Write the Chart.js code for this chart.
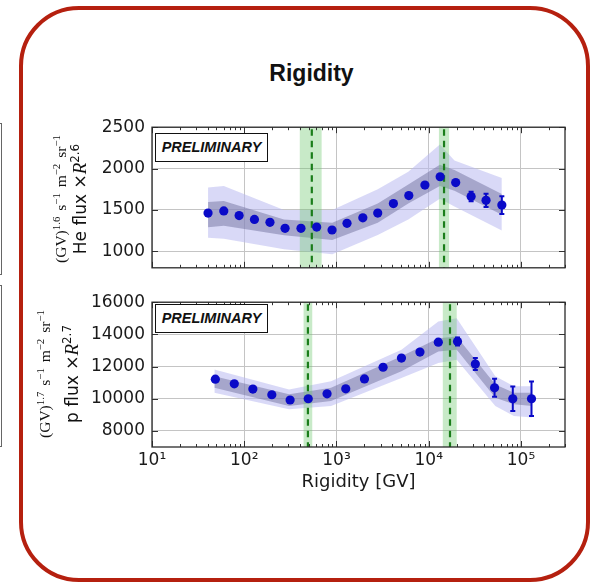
<!DOCTYPE html>
<html><head><meta charset="utf-8">
<script src="https://cdn.jsdelivr.net/npm/chart.js@4.4.0/dist/chart.umd.min.js"></script>
<style>
html,body{margin:0;padding:0;background:#fff;width:593px;height:586px;overflow:hidden;position:relative;}
#frame{position:absolute;left:19px;top:6px;width:563px;height:568px;border:4.5px solid #b5200f;border-radius:60px;}
.cw{position:absolute;left:0;width:593px;}
#title{position:absolute;left:311.5px;top:73px;transform:translate(-50%,-50%);font:bold 23px "Liberation Sans",Arial,sans-serif;color:#111;white-space:nowrap;}
.prelim{position:absolute;left:155px;width:111px;height:27px;border:1.5px solid #111;background:#fff;font:italic bold 14.5px "Liberation Sans",Arial,sans-serif;color:#111;text-align:center;line-height:27px;}
.ylab{position:absolute;white-space:nowrap;transform:translate(-50%,-50%) rotate(-90deg);color:#111;line-height:1;}
.sans{font:17px "DejaVu Sans",sans-serif;}
.serif{font:15.5px "Liberation Serif","Times New Roman",serif;word-spacing:2px;}
.ylab sup{font-size:70%;vertical-align:0;position:relative;top:-0.55em;line-height:0;}
.ylab i{font-family:"Liberation Serif",serif;font-size:19px;}
.side{position:absolute;left:-10px;width:10px;border:1px solid #666;}
</style></head>
<body>
<div class="side" style="top:123px;height:150px"></div>
<div class="side" style="top:285px;height:160px"></div>
<div id="frame"></div>
<div id="title">Rigidity</div>
<div class="cw" style="top:110px;height:175px"><canvas id="cHe" width="593" height="175"></canvas></div>
<div class="cw" style="top:285px;height:215px"><canvas id="cP" width="593" height="215"></canvas></div>
<div class="prelim" style="top:132.5px">PRELIMINARY</div>
<div class="prelim" style="top:304px">PRELIMINARY</div>
<div class="ylab sans" style="left:80px;top:198.5px">He flux ×<i>R</i><sup>2.6</sup></div>
<div class="ylab serif" style="left:61px;top:198.5px">(GV)<sup>1.6</sup> s<sup>−1</sup> m<sup>−2</sup> sr<sup>−1</sup></div>
<div class="ylab sans" style="left:72px;top:373.5px">p flux ×<i>R</i><sup>2.7</sup></div>
<div class="ylab serif" style="left:45px;top:373.5px">(GV)<sup>1.7</sup> s<sup>−1</sup> m<sup>−2</sup> sr<sup>−1</sup></div>
<script>
// ---------- data ----------
const xRange = [10, 300000];
const xTicks = [10, 100, 1000, 10000, 100000];
const xTickLabels = ['10¹', '10²', '10³', '10⁴', '10⁵'];

// Helium
const heR    = [40.5, 60, 88, 129, 190, 277, 412, 610, 895, 1300, 1930, 2800, 4140, 6080, 9090, 13300, 19600, 28800, 41800, 62000];
const heFlux = [1462, 1488, 1431, 1385, 1350, 1277, 1277, 1292, 1257, 1338, 1404, 1462, 1577, 1673, 1800, 1901, 1831, 1662, 1616, 1558];
const heErr  = [8, 8, 8, 8, 8, 8, 8, 8, 8, 8, 10, 10, 12, 14, 16, 20, 28, 58, 80, 108];
const heBandR    = [40.5, 60, 270, 900, 2800, 6000, 13200, 19000, 62000];
const heInnerHi  = [1597, 1609, 1385, 1346, 1577, 1808, 2047, 1982, 1693];
const heInnerLo  = [1289, 1308, 1193, 1135, 1346, 1577, 1789, 1731, 1442];
const heOuterHi  = [1770, 1790, 1500, 1500, 1751, 1962, 2290, 2097, 1886];
const heOuterLo  = [1162, 1150, 1023, 965, 1196, 1385, 1635, 1540, 1251];
const heYRange = [800, 2500];
const heYTicks = [1000, 1500, 2000, 2500];
const heGreenLo = [400, 12900];
const heGreenHi = [690, 16600];
const heGreenLine = [540, 14650];

// Proton
const pR    = [48.6, 78, 124, 199, 314, 494, 790, 1260, 2010, 3200, 5060, 8030, 12700, 20500, 32000, 51700, 81500, 130000];
const pFlux = [11215, 10926, 10600, 10247, 9920, 10000, 10308, 10617, 11234, 11956, 12530, 12900, 13517, 13560, 12160, 10680, 10000, 10000];
const pErr  = [60, 60, 60, 60, 60, 60, 60, 60, 70, 80, 90, 110, 150, 250, 370, 555, 760, 1070];
const pBandR   = [47.4, 306, 873, 5060, 12700, 20100, 52700, 83700, 132000];
const pInnerHi = [11400, 10271, 10679, 12634, 13764, 13869, 10888, 10370, 10370];
const pInnerLo = [10679, 9549, 9858, 11709, 12943, 13048, 10062, 9654, 9549];
const pOuterHi = [11814, 10580, 11092, 13048, 14794, 14998, 11400, 10783, 10783];
const pOuterLo = [10370, 9346, 9549, 11296, 12221, 12427, 9549, 8933, 8828];
const pYRange = [7000, 16000];
const pYTicks = [8000, 10000, 12000, 14000, 16000];
const pGreenLo = [440, 14200];
const pGreenHi = [546, 20100];
const pGreenLine = [490, 17000];

// ---------- helpers ----------
const pts = (xs, ys) => xs.map((x, i) => ({x, y: ys[i]}));
const FONT = '"DejaVu Sans", sans-serif';

function decorPlugin(name, errR, errF, errE, gLo, gHi, gLine, yTicks) {
  return {
    id: 'decor_' + name,
    afterDatasetDraw(chart, args) {
      if (args.index !== 1) return;
      const {ctx, chartArea: a, scales: {x, y}} = chart;
      ctx.save();
      for (let i = 0; i < gLo.length; i++) {
        const x0 = x.getPixelForValue(gLo[i]), x1 = x.getPixelForValue(gHi[i]);
        ctx.fillStyle = 'rgba(110,200,110,0.38)';
        ctx.fillRect(x0, a.top, x1 - x0, a.bottom - a.top);
      }
      ctx.strokeStyle = '#1a7d1a'; ctx.lineWidth = 2.2; ctx.setLineDash([6.5, 5]);
      for (let i = 0; i < gLine.length; i++) {
        const xm = x.getPixelForValue(gLine[i]);
        ctx.beginPath(); ctx.moveTo(xm, a.top + 2); ctx.lineTo(xm, a.bottom); ctx.stroke();
      }
      ctx.setLineDash([]);
      ctx.strokeStyle = '#0a0ac8'; ctx.lineWidth = 2;
      for (let i = 0; i < errR.length; i++) {
        const px = x.getPixelForValue(errR[i]);
        const y0 = y.getPixelForValue(errF[i] - errE[i]), y1 = y.getPixelForValue(errF[i] + errE[i]);
        ctx.beginPath(); ctx.moveTo(px, y0); ctx.lineTo(px, y1);
        ctx.moveTo(px - 2.5, y0); ctx.lineTo(px + 2.5, y0);
        ctx.moveTo(px - 2.5, y1); ctx.lineTo(px + 2.5, y1);
        ctx.stroke();
      }
      ctx.restore();
    },
    afterDraw(chart) {
      const {ctx, chartArea: a, scales: {x, y}} = chart;
      ctx.save();
      ctx.strokeStyle = '#333'; ctx.lineWidth = 1;
      for (let d = 1; d <= 5; d++) for (let m = 1; m <= 9; m++) {
        const v = m * Math.pow(10, d);
        if (v < x.min || v > x.max) continue;
        const px = Math.round(x.getPixelForValue(v)) + 0.5;
        const len = m === 1 ? 6 : 3;
        ctx.beginPath();
        ctx.moveTo(px, a.bottom); ctx.lineTo(px, a.bottom - len);
        ctx.moveTo(px, a.top); ctx.lineTo(px, a.top + len);
        ctx.stroke();
      }
      yTicks.forEach(v => {
        const py = Math.round(y.getPixelForValue(v)) + 0.5;
        ctx.beginPath();
        ctx.moveTo(a.left, py); ctx.lineTo(a.left + 6, py);
        ctx.moveTo(a.right, py); ctx.lineTo(a.right - 6, py);
        ctx.stroke();
      });
      ctx.lineWidth = 1.3; ctx.strokeStyle = '#2a2a2a';
      ctx.strokeRect(a.left, a.top, a.right - a.left, a.bottom - a.top);
      ctx.restore();
    }
  };
}

function makeChart(id, o) {
  const datasets = [
    {data: pts(o.R, o.F), showLine: false, pointRadius: 4.6, pointBackgroundColor: '#0a0ac8', pointBorderWidth: 0, borderWidth: 0},
    {data: pts(o.bR, o.iHi), borderWidth: 0, pointRadius: 0, fill: '+1', backgroundColor: 'rgba(105,105,150,0.45)'},
    {data: pts(o.bR, o.iLo), borderWidth: 0, pointRadius: 0, fill: false},
    {data: pts(o.bR, o.oHi), borderWidth: 0, pointRadius: 0, fill: '+1', backgroundColor: 'rgba(185,185,240,0.55)'},
    {data: pts(o.bR, o.oLo), borderWidth: 0, pointRadius: 0, fill: false}
  ];
  return new Chart(document.getElementById(id), {
    type: 'line',
    data: {datasets},
    options: {
      responsive: false, animation: false, events: [],
      layout: {padding: o.padding},
      plugins: {legend: {display: false}, tooltip: {enabled: false}, title: {display: false}},
      scales: {
        x: {
          type: 'logarithmic', min: xRange[0], max: xRange[1],
          afterBuildTicks: ax => { ax.ticks = xTicks.map(v => ({value: v})); },
          afterFit: ax => { ax.height = o.xHeight; },
          grid: {color: '#c4c4c4', lineWidth: 1, drawTicks: false},
          border: {display: false},
          ticks: {display: o.showX, autoSkip: false, maxRotation: 0, padding: 3, color: '#1a1a1a',
                  font: {family: FONT, size: 17},
                  callback: v => { const k = xTicks.indexOf(v); return k >= 0 ? xTickLabels[k] : ''; }},
          title: {display: o.showX, text: 'Rigidity [GV]', color: '#1a1a1a', font: {family: FONT, size: 18},
                  padding: {top: 0, bottom: 7}}
        },
        y: {
          type: 'linear', min: o.yRange[0], max: o.yRange[1],
          afterBuildTicks: ax => { ax.ticks = o.yTicks.map(v => ({value: v})); },
          afterFit: ax => { ax.width = 152; },
          grid: {color: '#c4c4c4', lineWidth: 1, drawTicks: false},
          border: {display: false},
          ticks: {padding: 7, color: '#1a1a1a', font: {family: FONT, size: 17}, callback: v => String(v)}
        }
      }
    },
    plugins: [decorPlugin(id, o.R, o.F, o.E, o.gLo, o.gHi, o.gLine, o.yTicks)]
  });
}

makeChart('cHe', {R: heR, F: heFlux, E: heErr, bR: heBandR, iHi: heInnerHi, iLo: heInnerLo, oHi: heOuterHi, oLo: heOuterLo,
  yRange: heYRange, yTicks: heYTicks, gLo: heGreenLo, gHi: heGreenHi, gLine: heGreenLine,
  padding: {left: 0, top: 15, right: 28, bottom: 13}, xHeight: 0, showX: false});
makeChart('cP', {R: pR, F: pFlux, E: pErr, bR: pBandR, iHi: pInnerHi, iLo: pInnerLo, oHi: pOuterHi, oLo: pOuterLo,
  yRange: pYRange, yTicks: pYTicks, gLo: pGreenLo, gHi: pGreenHi, gLine: pGreenLine,
  padding: {left: 0, top: 15, right: 28, bottom: 0}, xHeight: 53, showX: true});
</script>
</body></html>
